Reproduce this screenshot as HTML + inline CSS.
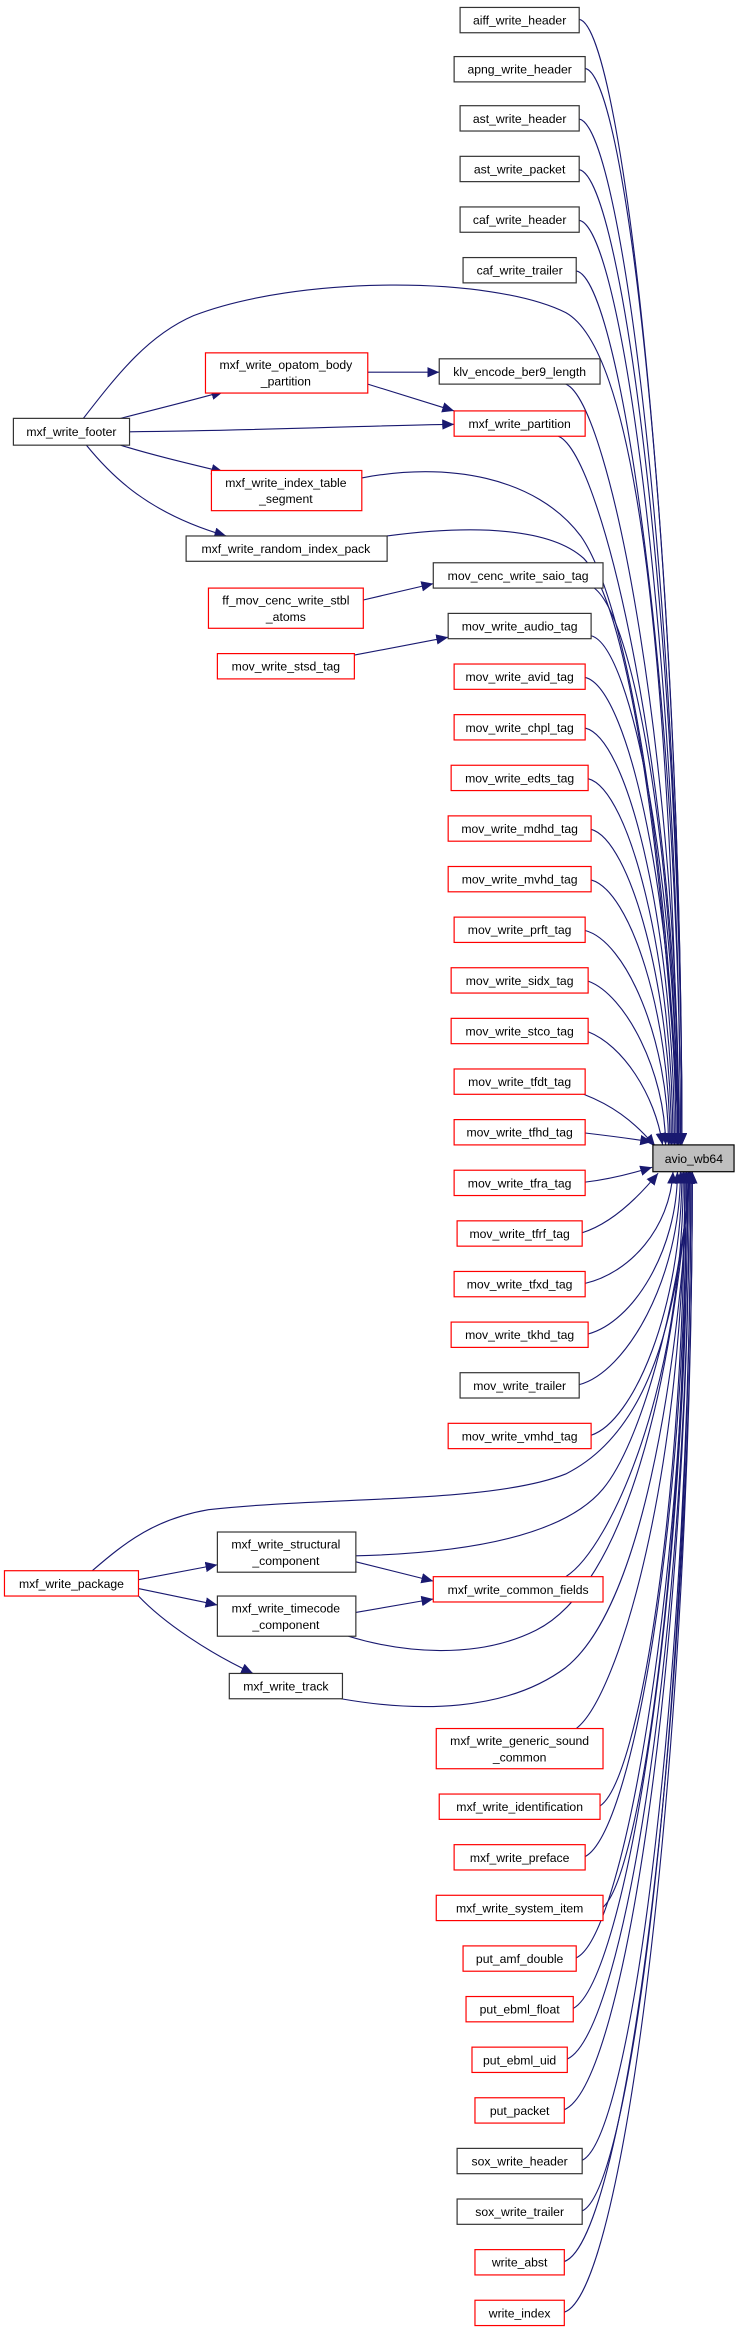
<!DOCTYPE html>
<html><head><meta charset="utf-8"><style>
html,body{margin:0;padding:0;background:#fff;}
svg{display:block;}
text{font-family:"Liberation Sans",sans-serif;font-size:8.2px;text-anchor:middle;fill:#000;}
.b{fill:#fff;stroke:#333;stroke-width:0.8;}
.r{fill:#fff;stroke:#f00;stroke-width:0.8;}
.e{fill:none;stroke:#191970;stroke-width:0.75;}
</style></head><body>
<svg width="740" height="2333" viewBox="0 0 497 1567" preserveAspectRatio="none" xmlns="http://www.w3.org/2000/svg">
<defs><marker id="a" markerUnits="userSpaceOnUse" markerWidth="9" markerHeight="7" refX="8" refY="3.5" orient="auto"><path d="M0,0 L8,3.5 L0,7 z" fill="#191970"/></marker></defs>
<g class="e" marker-end="url(#a)">
<path d="M389,13 C419,18 458,391 458,769"/>
<path d="M393,46 C423,51 458,408 458,769"/>
<path d="M389,80 C419,85 458,425 458,769"/>
<path d="M389,114 C419,119 458,442 458,769"/>
<path d="M389,148 C419,153 457,459 457,769"/>
<path d="M387,182 C417,187 457,476 457,769"/>
<path d="M380,258 C410,270 456,513 456,769"/>
<path d="M375,293 C405,305 456,531 456,769"/>
<path d="M395,393 C425,400 455,581 455,769"/>
<path d="M397,427 C425,434 455,598 455,769"/>
<path d="M393,455 C423,462 454,612 454,769"/>
<path d="M393,489 C423,496 453,629 453,769"/>
<path d="M395,523 C423,530 452,646 452,769"/>
<path d="M397,557 C423,564 451,663 451,769"/>
<path d="M397,591 C423,598 450,680 450,769"/>
<path d="M393,625 C420,632 449,697 449,769"/>
<path d="M395,659 C420,668 447,720 447,769"/>
<path d="M395,693 C418,702 440,735 445,769"/>
<path d="M392,735 C410,742 425,752 440,770"/>
<path d="M393,761 C410,763 425,765 438,767"/>
<path d="M393,794 C410,792 425,788 438,784"/>
<path d="M391,828 C410,822 428,805 442,788"/>
<path d="M393,862 C423,855 450,825 452,787"/>
<path d="M395,896 C425,888 455,840 455,787"/>
<path d="M389,930 C420,922 457,860 457,787"/>
<path d="M397,964 C425,955 458,880 458,787"/>
<path d="M380,1059 C410,1040 459,930 459,787"/>
<path d="M387,1161 C415,1140 460,990 460,787"/>
<path d="M403,1213 C430,1195 460,1000 460,787"/>
<path d="M393,1247 C425,1230 461,1020 461,787"/>
<path d="M405,1281 C430,1260 461,1040 461,787"/>
<path d="M387,1315 C420,1300 462,1050 462,787"/>
<path d="M385,1349 C420,1330 462,1070 462,787"/>
<path d="M381,1383 C420,1365 463,1085 463,787"/>
<path d="M379,1417 C420,1400 463,1100 463,787"/>
<path d="M391,1451 C425,1435 464,1120 464,787"/>
<path d="M391,1485 C425,1470 464,1135 464,787"/>
<path d="M379,1519 C420,1505 465,1150 465,787"/>
<path d="M379,1553 C420,1540 465,1170 465,787"/>
<path d="M56,281 C80,250 100,225 130,212 C200,185 330,185 380,210 C425,235 450,420 456,769"/>
<path d="M243,321 C300,310 360,320 390,360 C425,410 450,600 456,769"/>
<path d="M260,360 C320,352 370,355 392,375 C425,410 448,600 456,769"/>
<path d="M62,1055 C85,1035 105,1020 140,1014 C220,1005 330,1010 380,990 C430,965 455,900 463,787"/>
<path d="M239,1045 C320,1043 380,1030 405,1000 C430,970 455,880 464,787"/>
<path d="M234,1099 C270,1110 320,1115 360,1095 C420,1065 452,930 463,787"/>
<path d="M229,1141 C280,1150 340,1150 380,1120 C430,1080 455,930 463,787"/>
<path d="M81,281 C100,276 125,270 150,263"/>
<path d="M87,290 C180,289 240,286 305,285"/>
<path d="M81,299 C100,305 125,311 150,317"/>
<path d="M58,299 C75,320 100,345 152,360"/>
<path d="M247,250 L295,250"/>
<path d="M247,258 L305,276"/>
<path d="M244,403 L291,392"/>
<path d="M238,440 L301,428"/>
<path d="M93,1061 L146,1051"/>
<path d="M93,1067 L146,1078"/>
<path d="M93,1072 C110,1090 140,1110 170,1124"/>
<path d="M239,1049 L291,1062"/>
<path d="M239,1083 L291,1074"/>
</g>
<g>
<rect class="b" x="309" y="5" width="80" height="17"/><text x="349" y="16.5">aiff_write_header</text>
<rect class="b" x="305" y="38" width="88" height="17"/><text x="349" y="49.5">apng_write_header</text>
<rect class="b" x="309" y="71" width="80" height="17"/><text x="349" y="82.5">ast_write_header</text>
<rect class="b" x="309" y="105" width="80" height="17"/><text x="349" y="116.5">ast_write_packet</text>
<rect class="b" x="309" y="139" width="80" height="17"/><text x="349" y="150.5">caf_write_header</text>
<rect class="b" x="311" y="173" width="76" height="17"/><text x="349" y="184.5">caf_write_trailer</text>
<rect class="b" x="295" y="241" width="108" height="17"/><text x="349" y="252.5">klv_encode_ber9_length</text>
<rect class="r" x="305" y="276" width="88" height="17"/><text x="349" y="287.5">mxf_write_partition</text>
<rect class="b" x="291" y="378" width="114" height="17"/><text x="348" y="389.5">mov_cenc_write_saio_tag</text>
<rect class="b" x="301" y="412" width="96" height="17"/><text x="349" y="423.5">mov_write_audio_tag</text>
<rect class="r" x="305" y="446" width="88" height="17"/><text x="349" y="457.5">mov_write_avid_tag</text>
<rect class="r" x="305" y="480" width="88" height="17"/><text x="349" y="491.5">mov_write_chpl_tag</text>
<rect class="r" x="303" y="514" width="92" height="17"/><text x="349" y="525.5">mov_write_edts_tag</text>
<rect class="r" x="301" y="548" width="96" height="17"/><text x="349" y="559.5">mov_write_mdhd_tag</text>
<rect class="r" x="301" y="582" width="96" height="17"/><text x="349" y="593.5">mov_write_mvhd_tag</text>
<rect class="r" x="305" y="616" width="88" height="17"/><text x="349" y="627.5">mov_write_prft_tag</text>
<rect class="r" x="303" y="650" width="92" height="17"/><text x="349" y="661.5">mov_write_sidx_tag</text>
<rect class="r" x="303" y="684" width="92" height="17"/><text x="349" y="695.5">mov_write_stco_tag</text>
<rect class="r" x="305" y="718" width="88" height="17"/><text x="349" y="729.5">mov_write_tfdt_tag</text>
<rect class="r" x="305" y="752" width="88" height="17"/><text x="349" y="763.5">mov_write_tfhd_tag</text>
<rect class="r" x="305" y="786" width="88" height="17"/><text x="349" y="797.5">mov_write_tfra_tag</text>
<rect class="r" x="307" y="820" width="84" height="17"/><text x="349" y="831.5">mov_write_tfrf_tag</text>
<rect class="r" x="305" y="854" width="88" height="17"/><text x="349" y="865.5">mov_write_tfxd_tag</text>
<rect class="r" x="303" y="888" width="92" height="17"/><text x="349" y="899.5">mov_write_tkhd_tag</text>
<rect class="b" x="309" y="922" width="80" height="17"/><text x="349" y="933.5">mov_write_trailer</text>
<rect class="r" x="301" y="956" width="96" height="17"/><text x="349" y="967.5">mov_write_vmhd_tag</text>
<rect class="r" x="291" y="1059" width="114" height="17"/><text x="348" y="1070.5">mxf_write_common_fields</text>
<rect class="r" x="293" y="1161" width="112" height="27"/><text x="349" y="1172">mxf_write_generic_sound</text><text x="349" y="1183">_common</text>
<rect class="r" x="295" y="1205" width="108" height="17"/><text x="349" y="1216.5">mxf_write_identification</text>
<rect class="r" x="305" y="1239" width="88" height="17"/><text x="349" y="1250.5">mxf_write_preface</text>
<rect class="r" x="293" y="1273" width="112" height="17"/><text x="349" y="1284.5">mxf_write_system_item</text>
<rect class="r" x="311" y="1307" width="76" height="17"/><text x="349" y="1318.5">put_amf_double</text>
<rect class="r" x="313" y="1341" width="72" height="17"/><text x="349" y="1352.5">put_ebml_float</text>
<rect class="r" x="317" y="1375" width="64" height="17"/><text x="349" y="1386.5">put_ebml_uid</text>
<rect class="r" x="319" y="1409" width="60" height="17"/><text x="349" y="1420.5">put_packet</text>
<rect class="b" x="307" y="1443" width="84" height="17"/><text x="349" y="1454.5">sox_write_header</text>
<rect class="b" x="307" y="1477" width="84" height="17"/><text x="349" y="1488.5">sox_write_trailer</text>
<rect class="r" x="319" y="1511" width="60" height="17"/><text x="349" y="1522.5">write_abst</text>
<rect class="r" x="319" y="1545" width="60" height="17"/><text x="349" y="1556.5">write_index</text>
<rect x="438.5" y="769" width="54.5" height="18" fill="#bfbfbf" stroke="#000" stroke-width="0.8"/><text x="466" y="781">avio_wb64</text>
<rect class="b" x="9" y="281" width="78" height="18"/><text x="48" y="293">mxf_write_footer</text>
<rect class="r" x="138" y="237" width="109" height="27"/><text x="192" y="248">mxf_write_opatom_body</text><text x="192" y="259">_partition</text>
<rect class="r" x="142" y="316" width="101" height="27"/><text x="192" y="327">mxf_write_index_table</text><text x="192" y="338">_segment</text>
<rect class="b" x="125" y="360" width="135" height="17"/><text x="192" y="371.5">mxf_write_random_index_pack</text>
<rect class="r" x="140" y="395" width="104" height="27"/><text x="192" y="406">ff_mov_cenc_write_stbl</text><text x="192" y="417">_atoms</text>
<rect class="r" x="146" y="439" width="92" height="17"/><text x="192" y="450.5">mov_write_stsd_tag</text>
<rect class="r" x="3" y="1055" width="90" height="17"/><text x="48" y="1066.5">mxf_write_package</text>
<rect class="b" x="146" y="1029" width="93" height="27"/><text x="192" y="1040">mxf_write_structural</text><text x="192" y="1051">_component</text>
<rect class="b" x="146" y="1072" width="93" height="27"/><text x="192" y="1083">mxf_write_timecode</text><text x="192" y="1094">_component</text>
<rect class="b" x="154" y="1124" width="76" height="17"/><text x="192" y="1135.5">mxf_write_track</text>
</g>
</svg>
</body></html>
